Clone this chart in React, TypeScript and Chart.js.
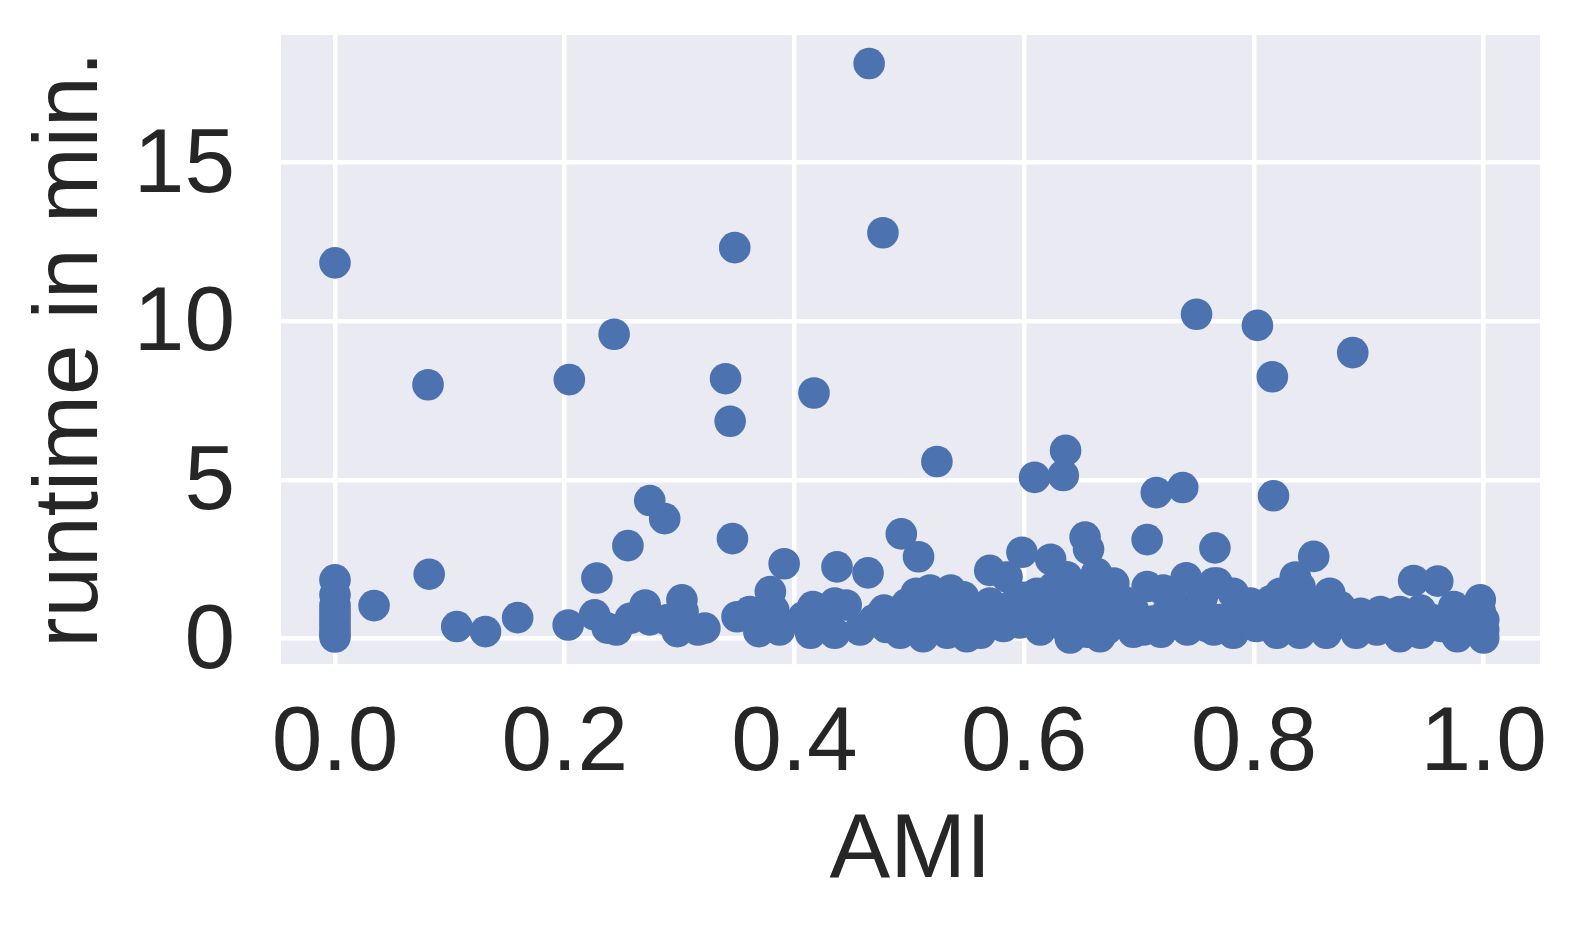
import React, { useEffect, useRef } from "react";
import { Chart, registerables } from "chart.js";

Chart.register(...registerables);

// AMI (x) values of each run
const amiValues: number[] = [
  // x = 0 column
  0.0, 0.0, 0.0, 0.0, 0.0, 0.0, 0.0, 0.0, 0.0, 0.0, 0.0,
  // high outliers
  0.081, 0.204, 0.243, 0.348, 0.340, 0.344, 0.417, 0.465, 0.477, 0.524,
  0.609, 0.636, 0.634, 0.750, 0.803, 0.816, 0.886, 0.817, 0.715, 0.738,
  // mid-range points
  0.274, 0.287, 0.255, 0.228, 0.346, 0.391, 0.437, 0.464, 0.493, 0.508,
  0.653, 0.656, 0.707, 0.766, 0.852, 0.598, 0.623, 0.570, 0.585, 0.082,
  0.034, 0.106, 0.131, 0.159, 0.939, 0.960, 0.997, 0.741, 0.836, 0.379,
  0.302, 0.663, 0.637,
  // dense band 0.2 - 0.47
  0.203, 0.226, 0.237, 0.245, 0.257, 0.270, 0.274, 0.289, 0.303, 0.298,
  0.316, 0.322, 0.350, 0.361, 0.370, 0.369, 0.382, 0.387, 0.408, 0.414,
  0.416, 0.435, 0.435, 0.445, 0.457, 0.469, 0.425,
  // dense band 0.47 - 0.77
  0.486, 0.506, 0.518, 0.536, 0.547, 0.512, 0.492, 0.533, 0.550, 0.562,
  0.570, 0.582, 0.596, 0.611, 0.614, 0.640, 0.649, 0.666, 0.678, 0.689,
  0.707, 0.704, 0.721, 0.742, 0.759, 0.765, 0.620, 0.678, 0.724, 0.547,
  0.518, 0.478, 0.498, 0.526, 0.556, 0.575, 0.590, 0.603, 0.627, 0.633,
  0.655, 0.660, 0.672, 0.685, 0.695, 0.712, 0.730, 0.735, 0.750, 0.755,
  0.770, 0.625, 0.645, 0.600, 0.505, 0.540, 0.568, 0.695, 0.719, 0.655,
  0.480, 0.475,
  // dense band 0.77 - 1.0
  0.768, 0.782, 0.797, 0.823, 0.840, 0.866, 0.875, 0.893, 0.910, 0.927,
  0.945, 0.974, 1.000, 1.000, 1.000, 0.997, 0.765, 0.782, 0.802, 0.820,
  0.840, 0.863, 0.889, 0.907, 0.927, 0.945, 0.977, 0.963, 0.782, 0.811,
  0.840, 0.869, 0.898, 0.921, 0.956, 0.790, 0.830, 0.855, 0.815, 0.985,
];

// runtime in minutes of each run
const runtimeValues: number[] = [
  0.05, 0.15, 0.3, 0.45, 0.6, 0.75, 0.9, 1.05, 1.38, 1.85, 11.84,
  8.0, 8.16, 9.59, 12.32, 8.19, 6.85, 7.74, 18.12, 12.79, 5.58,
  5.08, 5.93, 5.14, 10.22, 9.87, 8.25, 9.01, 4.5, 4.6, 4.76,
  4.35, 3.78, 2.93, 1.91, 3.15, 2.36, 2.26, 2.07, 3.3, 2.58,
  3.2, 2.82, 3.12, 2.86, 2.59, 2.72, 2.5, 2.15, 1.94, 2.03,
  1.04, 0.38, 0.22, 0.66, 1.83, 1.81, 1.22, 1.92, 1.94, 1.48,
  1.22, 2.06, 1.95,
  0.43, 0.75, 0.33, 0.27, 0.64, 1.06, 0.59, 0.59, 0.85, 0.22,
  0.27, 0.33, 0.69, 0.85, 0.59, 0.22, 0.9, 0.27, 0.69, 0.17,
  1.01, 1.12, 0.17, 1.06, 0.27, 0.59, 0.49,
  0.69, 1.43, 1.53, 1.53, 1.32, 0.06, 0.17, 0.17, 0.06, 0.17,
  1.12, 0.38, 0.49, 1.43, 0.27, 0.02, 1.01, 0.06, 1.75, 0.49,
  1.64, 0.27, 1.53, 0.27, 0.38, 1.75, 0.8, 0.8, 0.8, 0.69,
  0.69, 0.9, 1.1, 1.0, 0.95, 0.7, 1.05, 0.9, 1.2, 0.45,
  0.55, 1.35, 0.3, 1.2, 0.9, 0.55, 1.15, 0.5, 0.9, 1.3,
  0.6, 1.6, 1.55, 1.3, 0.4, 0.4, 0.45, 0.2, 0.2, 0.2,
  0.35, 0.75,
  1.75, 1.43, 1.12, 1.43, 1.64, 1.43, 1.01, 0.8, 0.85, 0.85,
  0.9, 1.01, 0.59, 0.27, 0.02, 0.85, 0.27, 0.17, 0.38, 0.17,
  0.17, 0.17, 0.17, 0.27, 0.06, 0.17, 0.06, 0.38, 0.59, 0.69,
  0.69, 0.59, 0.49, 0.59, 0.59, 0.95, 1.0, 0.95, 1.2, 0.4,
];

const xTickValues: number[] = [0, 0.2, 0.4, 0.6, 0.8, 1.0];
const yTickValues: number[] = [0, 5, 10, 15];

const FONT = "'Liberation Sans', Arial, Helvetica, sans-serif";
const TEXT = "#262626";

const bgPlugin = {
  id: "plotBg",
  beforeDraw(chart: any) {
    const { ctx, chartArea } = chart;
    if (!chartArea) return;
    ctx.save();
    ctx.fillStyle = "#EAEAF2";
    ctx.fillRect(chartArea.left, chartArea.top, chartArea.right - chartArea.left, chartArea.bottom - chartArea.top);
    ctx.restore();
  },
};

export default function App() {
  const ref = useRef<HTMLCanvasElement | null>(null);
  useEffect(() => {
    if (!ref.current) return;
    const points = amiValues.map((x, i) => ({ x, y: runtimeValues[i] }));
    const chart = new Chart(ref.current, {
      type: "scatter",
      data: {
        datasets: [
          {
            data: points,
            backgroundColor: "#4C72B0",
            borderWidth: 0,
            pointRadius: 15.8,
            pointHoverRadius: 15.8,
          },
        ],
      },
      plugins: [bgPlugin],
      options: {
        responsive: false,
        animation: false,
        maintainAspectRatio: false,
        layout: { padding: { top: 35, right: 40, left: 0, bottom: 0 } },
        plugins: { legend: { display: false }, tooltip: { enabled: false } },
        scales: {
          x: {
            type: "linear",
            min: -0.047,
            max: 1.049,
            afterFit: (s: any) => {
              s.height = 263;
              s.paddingLeft = 0;
              s.paddingRight = 0;
              s.paddingTop = 0;
              s.paddingBottom = 0;
            },
            afterBuildTicks: (s: any) => {
              s.ticks = xTickValues.map((v) => ({ value: v }));
            },
            ticks: {
              includeBounds: false,
              padding: 26,
              color: TEXT,
              font: { family: FONT, size: 91 },
              maxRotation: 0,
              callback: (v: any) => Number(v).toFixed(1),
            },
            grid: { color: "#FFFFFF", lineWidth: 4.5, drawTicks: false },
            border: { display: false },
            title: {
              display: true,
              text: "AMI",
              color: TEXT,
              font: { family: FONT, size: 91 },
              padding: { top: 0, bottom: 20 },
            },
          },
          y: {
            type: "linear",
            min: -0.8,
            max: 19.02,
            afterFit: (s: any) => {
              s.width = 281;
              s.paddingTop = 0;
              s.paddingBottom = 0;
              s.paddingLeft = 0;
              s.paddingRight = 0;
            },
            afterBuildTicks: (s: any) => {
              s.ticks = yTickValues.map((v) => ({ value: v }));
            },
            ticks: {
              includeBounds: false,
              padding: 46,
              labelOffset: 4,
              color: TEXT,
              font: { family: FONT, size: 91 },
              callback: (v: any) => String(v),
            },
            grid: { color: "#FFFFFF", lineWidth: 4.5, drawTicks: false },
            border: { display: false },
            title: {
              display: true,
              text: "runtime in min.",
              color: TEXT,
              font: { family: FONT, size: 91 },
              padding: { top: 17, bottom: 0 },
            },
          },
        },
      },
    });
    return () => chart.destroy();
  }, []);
  return (
    <div style={{ position: "absolute", left: 0, top: 0, width: 1580, height: 927, background: "#FFFFFF" }}>
      <canvas ref={ref} width={1580} height={927} style={{ width: 1580, height: 927, display: "block" }} />
    </div>
  );
}
